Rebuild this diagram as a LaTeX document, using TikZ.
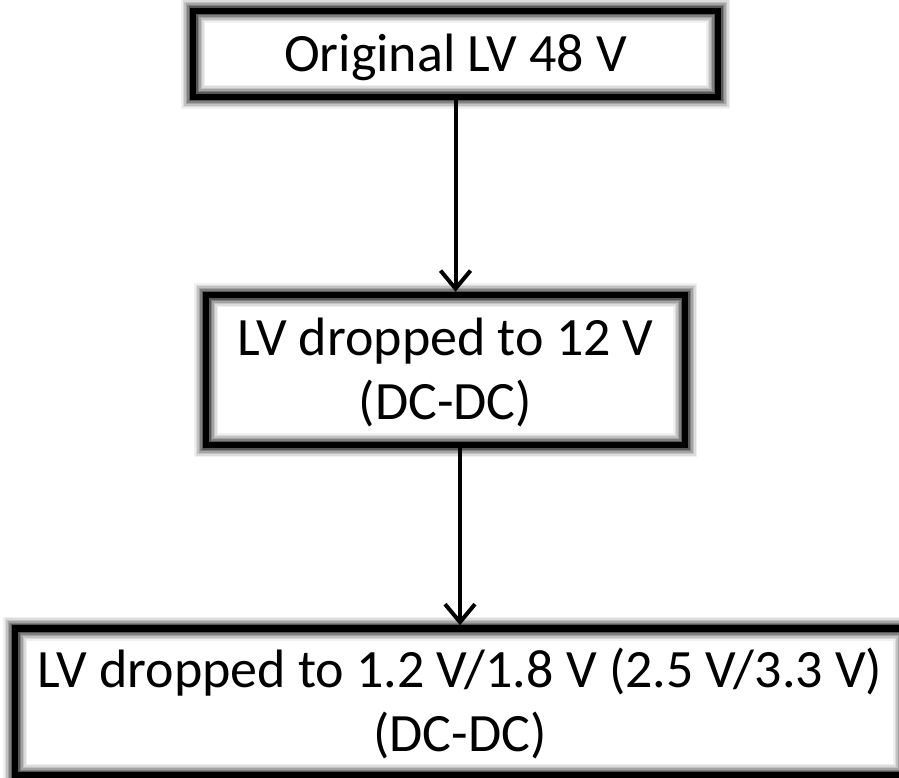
\documentclass[tikz,border=0pt]{standalone}
\usepackage{fontspec}
\setmainfont{Carlito}
\usetikzlibrary{arrows.meta}

\tikzset{
  glowbox/.style={rectangle, inner sep=0pt, align=center,
    font=\fontsize{54}{64}\selectfont, text height=35pt, text depth=0pt,
    preaction={fill=white},
    preaction={draw=black!6, line width=24pt},
    preaction={draw=black!14, line width=21pt},
    preaction={draw=black!24, line width=18pt},
    preaction={draw=black!36, line width=15pt},
    preaction={draw=black!50, line width=12pt},
    preaction={draw=black!66, line width=9pt},
    draw=black, line width=6.5pt},
  twoline/.style={text height=99pt},
  flow/.style={line width=4pt, -{Straight Barb[length=18pt,width=30pt,line width=4pt]}}
}

\begin{document}
\begin{tikzpicture}[x=1pt,y=-1pt]
			\useasboundingbox (0,0) rectangle (899,778);
			% boxes
			\node[glowbox, minimum width=525pt, minimum height=86pt] (orig) at (455.5,54) {Original LV 48 V};
			\node[glowbox, twoline, minimum width=479pt, minimum height=150pt] (mid) at (445.5,370) {LV dropped to 12 V\\(DC-DC)};
			\node[glowbox, twoline, minimum width=890pt, minimum height=147pt] (low) at (460,702) {LV dropped to 1.2 V/1.8 V (2.5 V/3.3 V)\\(DC-DC)};
			% arrows
			\draw[flow] (orig.south) -- (orig.south |- mid.north);
			\draw[flow] (low.north |- mid.south) -- (low.north);
		\end{tikzpicture}
\end{document}
